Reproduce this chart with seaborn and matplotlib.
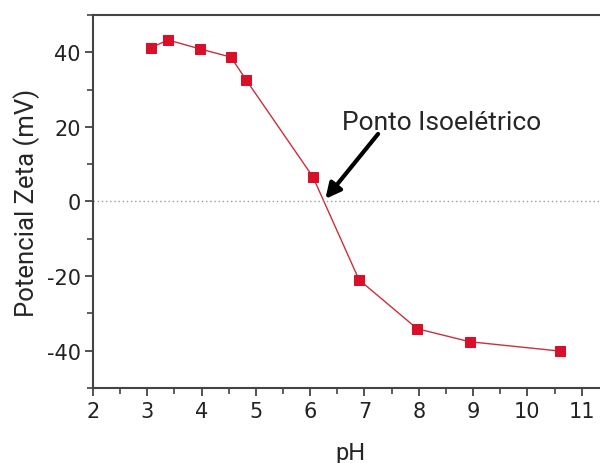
import matplotlib
matplotlib.use("Agg")
import matplotlib.pyplot as plt
import seaborn as sns
import pandas as pd
from matplotlib.ticker import MultipleLocator

# Zeta potential readings
ph = [3.07, 3.38, 3.97, 4.54, 4.82, 6.05, 6.90, 7.97, 8.94, 10.60]
zeta = [41.2, 43.3, 40.9, 38.7, 32.6, 6.6, -21.0, -34.1, -37.6, -40.1]

label_text = "Ponto Isoelétrico"
label_pos = (6.58, 19.3)
arrow_tip = (6.28, 0.7)
arrow_tail = (7.25, 18.1)

df = pd.DataFrame({"pH": ph, "zeta": zeta})

sns.set_style("ticks")
plt.rcParams["font.family"] = ["DejaVu Sans"]
plt.rcParams["axes.unicode_minus"] = False
narrow = "Roboto"

fig = plt.figure(figsize=(6, 4.64), dpi=100)
ax = fig.add_axes([0.155, 0.1616, 0.8597, 0.804])

sns.lineplot(data=df, x="pH", y="zeta", ax=ax, color="#c8303c", linewidth=1,
             marker="s", markersize=7, markerfacecolor="#d8102a",
             markeredgecolor="#d8102a")

ax.axhline(0, color="#999999", linestyle=(0, (1, 2)), linewidth=1)

ax.set_xlim(2, 11.5)
ax.set_ylim(-50, 50)
ax.xaxis.set_major_locator(MultipleLocator(1))
ax.xaxis.set_minor_locator(MultipleLocator(0.5))
ax.yaxis.set_major_locator(MultipleLocator(20))
ax.yaxis.set_minor_locator(MultipleLocator(10))

for s in ax.spines.values():
    s.set_color("#444444")
    s.set_linewidth(1.5)
ax.tick_params(which="major", length=6, width=1.3, color="#444444",
               labelsize=15, labelcolor="#222222", pad=3)
ax.tick_params(which="minor", length=4, width=1.2, color="#444444")

ax.set_xlabel("pH", fontsize=17, family=narrow, labelpad=15)
ax.set_ylabel("Potencial Zeta (mV)", fontsize=18.5, family=narrow, labelpad=5)

# label and arrow drawn separately so the arrow starts below the text
ax.text(*label_pos, label_text, fontsize=19, family=narrow,
        ha="left", va="baseline")
ax.annotate("", xy=arrow_tip, xytext=arrow_tail,
            arrowprops=dict(arrowstyle="-|>,head_length=0.9,head_width=0.45",
                            color="black", linewidth=3, shrinkA=0, shrinkB=0))

fig.savefig("out.png", dpi=100)
